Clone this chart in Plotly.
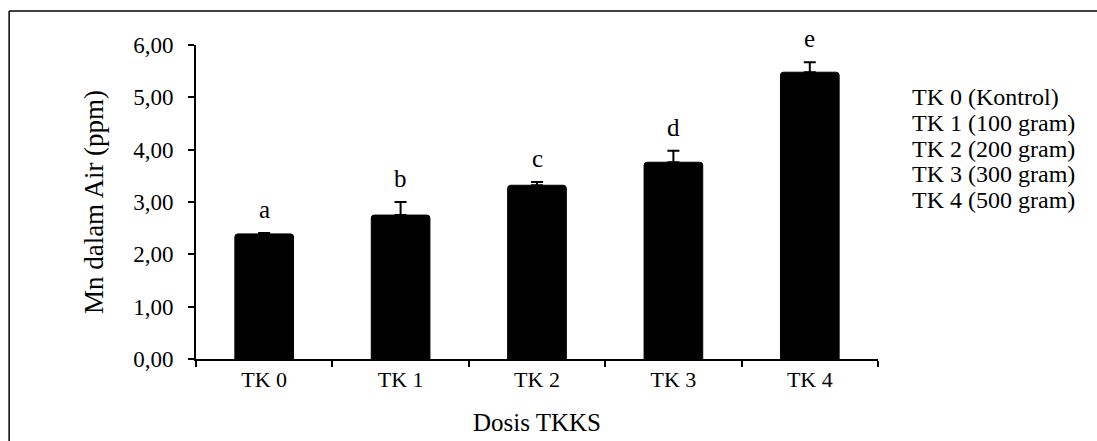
import plotly.graph_objects as go

categories = ["TK 0", "TK 1", "TK 2", "TK 3", "TK 4"]
values = [2.39, 2.75, 3.32, 3.76, 5.48]
errors = [0.02, 0.25, 0.06, 0.22, 0.19]
letters = ["a", "b", "c", "d", "e"]
legend_labels = ["TK 0 (Kontrol)", "TK 1 (100 gram)", "TK 2 (200 gram)",
                 "TK 3 (300 gram)", "TK 4 (500 gram)"]

FONT = "Liberation Serif, Times New Roman, serif"

fig = go.Figure()
fig.add_trace(go.Bar(
    x=categories, y=values,
    marker=dict(color="black", line=dict(color="black", width=1), cornerradius=3),
    error_y=dict(type="data", symmetric=False, array=errors,
                 arrayminus=[0] * len(errors), color="black", thickness=2, width=6),
    showlegend=False,
    hoverinfo="x+y",
))

for c, v, e, t in zip(categories, values, errors, letters):
    fig.add_annotation(x=c, y=v + e, text=t, showarrow=False, yanchor="bottom",
                       yshift=8, font=dict(family=FONT, size=25, color="black"))

for i, lab in enumerate(legend_labels):
    fig.add_annotation(xref="paper", yref="paper", x=1.047, y=0.834 - i * 0.082,
                       text=lab, showarrow=False, xanchor="left", yanchor="middle",
                       font=dict(family=FONT, size=24, color="black"))

frame = dict(color="black", width=1.5)
fig.update_layout(
    width=1097, height=441,
    margin=dict(l=196, r=219, t=45, b=82),
    paper_bgcolor="white", plot_bgcolor="white",
    separators=", ",
    bargap=0.57,
    font=dict(family=FONT, size=22, color="black"),
    shapes=[
        dict(type="line", xref="paper", yref="paper",
             x0=-0.274, x1=2.0, y0=1.108, y1=1.108, line=frame, layer="below"),
        dict(type="line", xref="paper", yref="paper",
             x0=-0.274, x1=-0.274, y0=-1.0, y1=1.108, line=frame, layer="below"),
    ],
)
fig.update_xaxes(
    showline=True, linecolor="black", linewidth=2,
    ticks="outside", tickson="boundaries", ticklen=6, tickwidth=1.5, tickcolor="black",
    showgrid=False, automargin=False,
    title=dict(text="Dosis TKKS", font=dict(family=FONT, size=25), standoff=22),
    tickfont=dict(family=FONT, size=22),
)
fig.update_yaxes(
    range=[0, 6], dtick=1, tickformat=".2f",
    showline=True, linecolor="black", linewidth=2,
    ticks="outside", ticklen=6, tickwidth=1.5, tickcolor="black",
    ticklabelstandoff=10, automargin=False,
    showgrid=False, zeroline=False,
    title=dict(text="Mn dalam Air (ppm)", font=dict(family=FONT, size=27), standoff=22),
    tickfont=dict(family=FONT, size=23),
)

fig.write_html("out.html",
               config={"displayModeBar": False},
               post_script="document.body.style.margin='0';document.body.style.overflow='hidden';")
